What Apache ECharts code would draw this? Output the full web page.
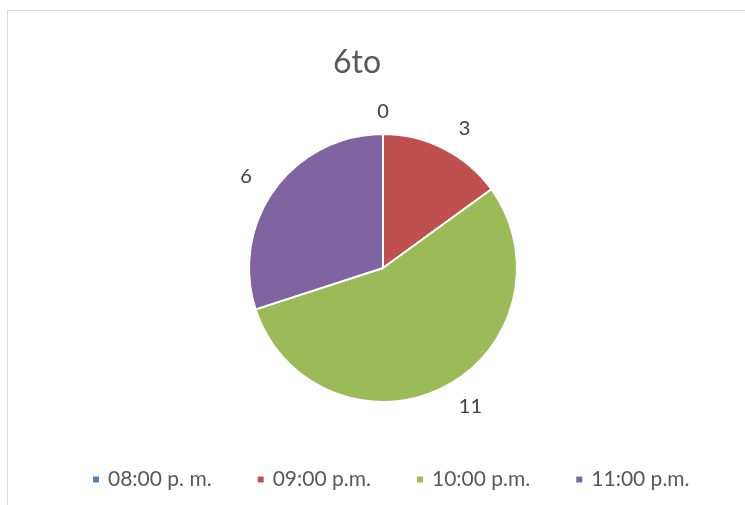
<!DOCTYPE html>
<html>
<head>
<meta charset="utf-8">
<script src="https://cdn.jsdelivr.net/npm/echarts@6/dist/echarts.min.js"></script>
<style>
  html, body { margin: 0; padding: 0; background: #fff; }
  #frame { position: absolute; left: 7px; top: 10px; width: 760px; height: 510px; border: 1px solid #d9d9d9; box-sizing: border-box; }
  #chart { width: 745px; height: 505px; }
</style>
</head>
<body>
<div id="frame"></div>
<div id="chart"></div>
<script>
const titleText = '6to'
const categories = ['08:00 p. m.', '09:00 p.m.', '10:00 p.m.', '11:00 p.m.']
const values = [0, 3, 11, 6]
const colors = ['#4f81bd', '#c0504d', '#9bbb59', '#8064a2']

const chart = echarts.init(document.getElementById('chart'))
const option = {
  animation: false,
  color: colors,
  title: {
    text: titleText,
    left: 352,
    top: 42,
    textAlign: 'center',
    textStyle: {
      fontFamily: 'Lato',
      fontSize: 32,
      fontWeight: 'normal',
      color: '#595959'
    }
  },
  legend: {
    bottom: 10,
    left: 86,
    itemWidth: 8,
    itemHeight: 8,
    itemGap: 44,
    icon: 'rect',
    textStyle: {
      fontFamily: 'Lato',
      fontSize: 21,
      color: '#595959',
      padding: [0, 0, 0, 3]
    }
  },
  series: [
    {
      type: 'pie',
      center: [383, 268],
      radius: 134,
      startAngle: 90,
      clockwise: true,
      stillShowZeroSum: true,
      itemStyle: {
        borderColor: '#fff',
        borderWidth: 2
      },
      label: {
        show: true,
        position: 'outside',
        formatter: '{c}',
        fontFamily: 'Lato',
        fontSize: 20,
        color: '#404040'
      },
      labelLine: {
        show: false,
        length: 22,
        length2: 0
      },
      labelLayout: function (params) {
        // the empty slice sits straight up, so centre its label
        if (params.dataIndex === 0) {
          return { align: 'center', dx: 5 }
        }
        return {}
      },
      data: categories.map((name, i) => ({ name: name, value: values[i] }))
    }
  ]
}
chart.setOption(option)
</script>
</body>
</html>
